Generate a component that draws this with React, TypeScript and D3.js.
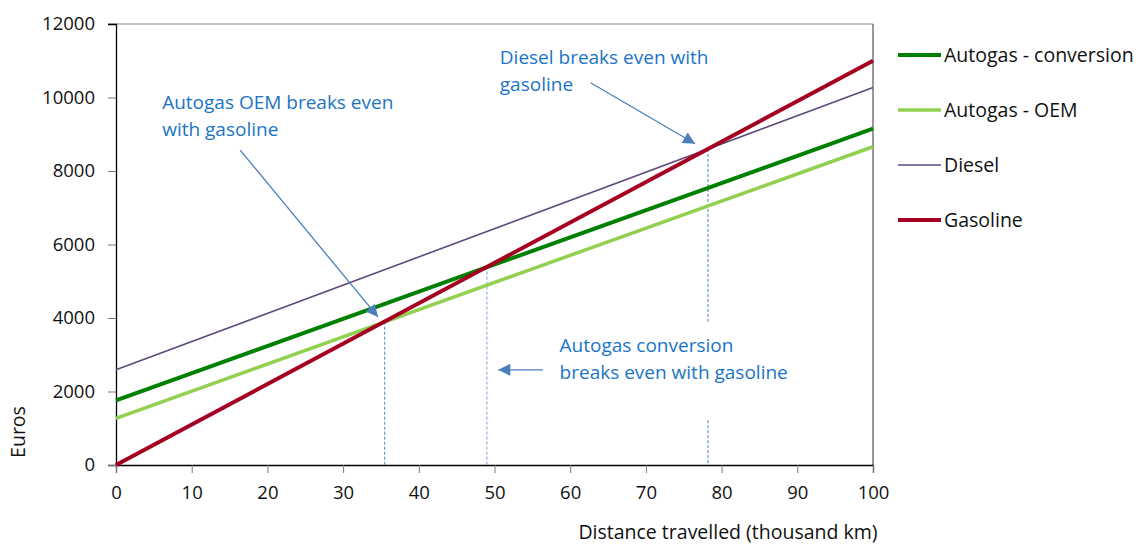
import React, { useEffect, useRef } from "react";
import * as d3 from "d3";

// distance travelled (thousand km) at the two ends of each line
const distance = [0, 100];
const conversionCost = [1760, 9150];
const oemCost = [1270, 8660];
const dieselCost = [2590, 10270];
const gasolineCost = [0, 11000];

const seriesNames = ["Autogas - conversion", "Autogas - OEM", "Diesel", "Gasoline"];
const seriesColors = ["#008000", "#92D050", "#604A7B", "#A50021"];
const seriesWidths = [4, 3.5, 1.6, 4];

const yTicks = [0, 2000, 4000, 6000, 8000, 10000, 12000];
const xTicks = [0, 10, 20, 30, 40, 50, 60, 70, 80, 90, 100];

// break-even points (km, euros)
const breakEvenKm = [35.5, 49, 78.2];
const breakEvenEuro = [3900, 5400, 8600];

const noteLines = [
  ["Autogas OEM breaks even", "with gasoline"],
  ["Diesel breaks even with", "gasoline"],
  ["Autogas conversion", "breaks even with gasoline"],
];
const noteX = [6.1, 50.7, 58.6];
const noteY = [9690, 10910, 3080];

// arrows: start -> tip, in data units
const arrowFrom = [[16.4, 8570], [62.7, 10400], [56.4, 2590]];
const arrowTo = [[34.6, 4030], [76.5, 8740], [50.5, 2590]];

const W = 1140;
const H = 546;
const margin = { top: 24, right: 267, bottom: 81, left: 116 };
const FONT = "'Open Sans', 'DejaVu Sans', sans-serif";
const NOTE = "#1A75C4";
const ARROW = "#4A7EBB";

const App = () => {
  const ref = useRef<SVGSVGElement>(null);

  useEffect(() => {
    const svg = d3.select(ref.current);
    svg.selectAll("*").remove();

    const graphWidth = W - margin.left - margin.right;
    const graphHeight = H - margin.top - margin.bottom;

    const x = d3.scaleLinear().domain([0, 100]).range([margin.left, margin.left + graphWidth]);
    const y = d3.scaleLinear().domain([0, 12000]).range([margin.top + graphHeight, margin.top]);

    svg
      .append("defs")
      .append("marker")
      .attr("id", "head")
      .attr("viewBox", "0 0 10 10")
      .attr("refX", 10)
      .attr("refY", 5)
      .attr("markerWidth", 15)
      .attr("markerHeight", 12)
      .attr("markerUnits", "userSpaceOnUse")
      .attr("orient", "auto")
      .append("path")
      .attr("d", "M0,0 L10,5 L0,10 Z")
      .attr("fill", ARROW);

    // plot frame (top grey, right dark)
    svg
      .append("line")
      .attr("x1", x(0) - 8)
      .attr("x2", x(100))
      .attr("y1", y(12000))
      .attr("y2", y(12000))
      .attr("stroke", "#868686")
      .attr("stroke-width", 1.2);
    svg
      .append("line")
      .attr("x1", x(100))
      .attr("x2", x(100))
      .attr("y1", y(12000))
      .attr("y2", y(0))
      .attr("stroke", "#333")
      .attr("stroke-width", 1);

    // axes
    const yAxis = svg
      .append("g")
      .attr("transform", `translate(${x(0)},0)`)
      .call(d3.axisLeft(y).tickValues(yTicks).tickSize(8).tickPadding(13).tickFormat(d3.format("d")));
    const xAxis = svg
      .append("g")
      .attr("transform", `translate(0,${y(0)})`)
      .call(d3.axisBottom(x).tickValues(xTicks).tickSize(8).tickPadding(13).tickFormat(d3.format("d")));

    [yAxis, xAxis].forEach((g) => {
      g.select(".domain").attr("stroke", "#000").attr("stroke-width", 1.3);
      g.selectAll(".tick line").attr("stroke", "#777");
      g.selectAll("text").attr("font-family", FONT).attr("font-size", 18.5).attr("fill", "#111");
    });
    yAxis.select(".tick:last-of-type line").remove();

    // break-even dashed drop lines
    const dashed = svg.append("g").attr("stroke", ARROW).attr("stroke-width", 1).attr("stroke-dasharray", "3,2");
    breakEvenKm.forEach((km, i) => {
      if (i === 2) {
        dashed.append("line").attr("x1", x(km)).attr("x2", x(km)).attr("y1", y(breakEvenEuro[i])).attr("y2", y(3900));
        dashed.append("line").attr("x1", x(km)).attr("x2", x(km)).attr("y1", y(1220)).attr("y2", y(0));
      } else {
        dashed
          .append("line")
          .attr("x1", x(km))
          .attr("x2", x(km))
          .attr("y1", y(breakEvenEuro[i]))
          .attr("y2", y(0))
          .attr("opacity", i === 1 ? 0.7 : 1);
      }
    });

    // cost lines
    const series = [conversionCost, oemCost, dieselCost, gasolineCost];
    const line = d3
      .line<number>()
      .x((_, i) => x(distance[i]))
      .y((d) => y(d));
    series.forEach((vals, i) => {
      svg
        .append("path")
        .datum(vals)
        .attr("fill", "none")
        .attr("stroke", seriesColors[i])
        .attr("stroke-width", seriesWidths[i])
        .attr("d", line);
    });

    // annotations
    noteLines.forEach((lines, i) => {
      const t = svg
        .append("text")
        .attr("x", x(noteX[i]))
        .attr("y", y(noteY[i]))
        .attr("font-family", FONT)
        .attr("font-size", 19)
        .attr("fill", NOTE);
      lines.forEach((s, j) => {
        t.append("tspan").attr("x", x(noteX[i])).attr("dy", j === 0 ? 0 : 27).text(s);
      });
    });

    arrowFrom.forEach((a, i) => {
      svg
        .append("line")
        .attr("x1", x(a[0]))
        .attr("y1", y(a[1]))
        .attr("x2", x(arrowTo[i][0]))
        .attr("y2", y(arrowTo[i][1]))
        .attr("stroke", ARROW)
        .attr("stroke-width", 1.3)
        .attr("marker-end", "url(#head)");
    });

    // axis titles
    svg
      .append("text")
      .attr("transform", `translate(25,432) rotate(-90)`)
      .attr("text-anchor", "middle")
      .attr("font-family", FONT)
      .attr("font-size", 19.5)
      .attr("fill", "#111")
      .text("Euros");
    svg
      .append("text")
      .attr("x", 728)
      .attr("y", 539)
      .attr("text-anchor", "middle")
      .attr("font-family", FONT)
      .attr("font-size", 19.5)
      .attr("fill", "#111")
      .text("Distance travelled (thousand km)");

    // legend
    const legend = svg.append("g").attr("transform", `translate(898,55)`);
    seriesNames.forEach((name, i) => {
      const g = legend.append("g").attr("transform", `translate(0,${i * 55})`);
      g.append("line")
        .attr("x1", 0)
        .attr("x2", 43)
        .attr("stroke", seriesColors[i])
        .attr("stroke-width", seriesWidths[i]);
      g.append("text")
        .attr("x", 46)
        .attr("dy", "0.35em")
        .attr("font-family", FONT)
        .attr("font-size", 19.5)
        .attr("fill", "#111")
        .text(name);
    });
  }, []);

  return (
    <svg
      ref={ref}
      width={W}
      height={H}
      style={{ position: "absolute", left: 0, top: 0, background: "#fff" }}
    />
  );
};

export default App;
